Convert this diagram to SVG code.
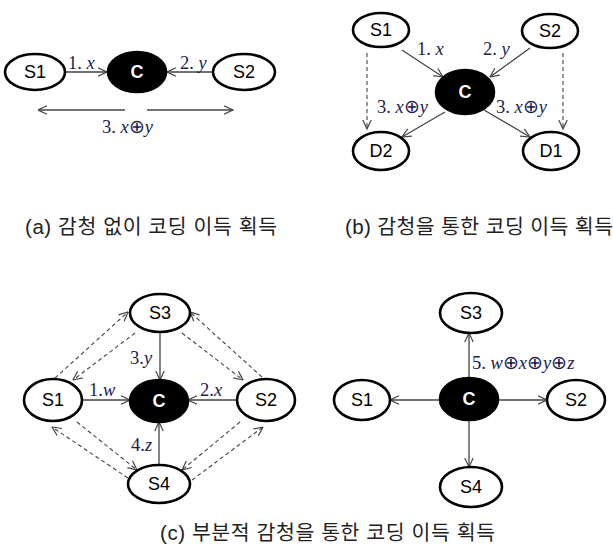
<svg xmlns="http://www.w3.org/2000/svg" width="613" height="549" viewBox="0 0 613 549">
<defs>
<marker id="ah" viewBox="0 0 10 10" refX="9.5" refY="5" markerWidth="10" markerHeight="10" markerUnits="userSpaceOnUse" orient="auto">
<path d="M0.5,0.8 L9.5,5 L0.5,9.2" fill="none" stroke="#444" stroke-width="1.2"/>
</marker>
</defs>
<style>
.n{fill:#fff;stroke:#000;stroke-width:2.6}
.c{fill:#000;stroke:#000;stroke-width:2.6}
.t{font-family:"Liberation Sans",Arial,sans-serif;font-size:18px;fill:#000;text-anchor:middle}
.tc{font-family:"Liberation Sans",Arial,sans-serif;font-size:18px;fill:#fff;text-anchor:middle;font-weight:bold}
.e{stroke:#444;stroke-width:1.3;fill:none;marker-end:url(#ah)}
.d{stroke:#444;stroke-width:1.1;fill:none;stroke-dasharray:4,3;marker-end:url(#ah)}
.l{font-family:"Liberation Serif","Times New Roman",serif;font-size:18.5px;fill:#1c1c50}
.i{font-style:italic}
.cap{font-family:"Liberation Sans","Noto Sans CJK KR",sans-serif;font-size:20.5px;fill:#222}
</style>

<!-- connectors -->
<g id="connectors">
<!-- (a) -->
<line class="e" x1="65" y1="72" x2="107" y2="72"/>
<line class="e" x1="213" y1="72" x2="167" y2="72"/>
<line class="e" x1="125" y1="110" x2="38" y2="110"/>
<line class="e" x1="147" y1="110" x2="233" y2="110"/>
<!-- (b) -->
<line class="e" x1="402" y1="50" x2="443" y2="77"/>
<line class="e" x1="530" y1="48" x2="490" y2="77"/>
<line class="e" x1="445" y1="112" x2="402" y2="137"/>
<line class="e" x1="484" y1="110" x2="530" y2="137"/>
<line class="d" x1="367" y1="53" x2="367" y2="129"/>
<line class="d" x1="563" y1="53" x2="563" y2="129"/>
<!-- (c) left -->
<line class="e" x1="160" y1="332" x2="160" y2="380"/>
<line class="e" x1="82" y1="400" x2="130" y2="400"/>
<line class="e" x1="237" y1="400" x2="188" y2="400"/>
<line class="e" x1="159" y1="465" x2="159" y2="422"/>
<line class="d" x1="55" y1="378" x2="128" y2="312"/>
<line class="d" x1="135" y1="333" x2="73" y2="380"/>
<line class="d" x1="182" y1="333" x2="243" y2="380"/>
<line class="d" x1="262" y1="377" x2="190" y2="312"/>
<line class="d" x1="77" y1="422" x2="137" y2="470"/>
<line class="d" x1="128" y1="478" x2="52" y2="427"/>
<line class="d" x1="240" y1="422" x2="182" y2="470"/>
<line class="d" x1="192" y1="480" x2="263" y2="427"/>
<!-- (c) right -->
<line class="e" x1="469" y1="377" x2="469" y2="333"/>
<line class="e" x1="440" y1="400" x2="390" y2="400"/>
<line class="e" x1="498" y1="400" x2="547" y2="400"/>
<line class="e" x1="469" y1="421" x2="469" y2="467"/>
</g>

<!-- edge labels -->
<g id="labels">
<text class="l" x="68" y="69">1. <tspan class="i">x</tspan></text>
<text class="l" x="180" y="69">2. <tspan class="i">y</tspan></text>
<text class="l" x="102" y="133">3. <tspan class="i">x</tspan>⊕<tspan class="i">y</tspan></text>
<text class="l" x="417" y="55">1. <tspan class="i">x</tspan></text>
<text class="l" x="483" y="55">2. <tspan class="i">y</tspan></text>
<text class="l" x="377" y="113">3. <tspan class="i">x</tspan>⊕<tspan class="i">y</tspan></text>
<text class="l" x="496" y="113">3. <tspan class="i">x</tspan>⊕<tspan class="i">y</tspan></text>
<text class="l" x="130" y="364">3.<tspan class="i">y</tspan></text>
<text class="l" x="89" y="396">1.<tspan class="i">w</tspan></text>
<text class="l" x="200" y="396">2.<tspan class="i">x</tspan></text>
<text class="l" x="131" y="451">4.<tspan class="i">z</tspan></text>
<text class="l" x="472" y="369">5. <tspan class="i">w</tspan>⊕<tspan class="i">x</tspan>⊕<tspan class="i">y</tspan>⊕<tspan class="i">z</tspan></text>
</g>

<!-- (a) nodes -->
<g id="a-S1"><ellipse class="n" cx="35" cy="72" rx="30" ry="18"/><text class="t" x="35" y="78">S1</text></g>
<g id="a-C"><ellipse class="c" cx="137" cy="72" rx="29" ry="20"/><text class="tc" x="137" y="78">C</text></g>
<g id="a-S2"><ellipse class="n" cx="244" cy="72" rx="31" ry="18"/><text class="t" x="244" y="78">S2</text></g>

<!-- (b) nodes -->
<g id="b-S1"><ellipse class="n" cx="381" cy="30" rx="28" ry="17"/><text class="t" x="381" y="36">S1</text></g>
<g id="b-S2"><ellipse class="n" cx="550" cy="31" rx="28" ry="17"/><text class="t" x="550" y="37">S2</text></g>
<g id="b-C"><ellipse class="c" cx="465" cy="92" rx="29" ry="22"/><text class="tc" x="465" y="98">C</text></g>
<g id="b-D2"><ellipse class="n" cx="381" cy="151" rx="28" ry="19"/><text class="t" x="381" y="157">D2</text></g>
<g id="b-D1"><ellipse class="n" cx="551" cy="151" rx="28" ry="19"/><text class="t" x="551" y="157">D1</text></g>

<!-- (c) left nodes -->
<g id="c1-S3"><ellipse class="n" cx="160" cy="313" rx="30" ry="19"/><text class="t" x="160" y="319">S3</text></g>
<g id="c1-S1"><ellipse class="n" cx="53" cy="400" rx="29" ry="21"/><text class="t" x="53" y="406">S1</text></g>
<g id="c1-C"><ellipse class="c" cx="159" cy="401" rx="29" ry="21"/><text class="tc" x="159" y="407">C</text></g>
<g id="c1-S2"><ellipse class="n" cx="266" cy="400" rx="29" ry="21"/><text class="t" x="266" y="406">S2</text></g>
<g id="c1-S4"><ellipse class="n" cx="159" cy="484" rx="31" ry="19"/><text class="t" x="159" y="490">S4</text></g>

<!-- (c) right nodes -->
<g id="c2-S3"><ellipse class="n" cx="471" cy="313" rx="31" ry="20"/><text class="t" x="471" y="319">S3</text></g>
<g id="c2-C"><ellipse class="c" cx="469" cy="399" rx="29" ry="21"/><text class="tc" x="469" y="405">C</text></g>
<g id="c2-S1"><ellipse class="n" cx="362" cy="400" rx="28" ry="20"/><text class="t" x="362" y="406">S1</text></g>
<g id="c2-S2"><ellipse class="n" cx="576" cy="400" rx="29" ry="20"/><text class="t" x="576" y="406">S2</text></g>
<g id="c2-S4"><ellipse class="n" cx="471" cy="487" rx="31" ry="20"/><text class="t" x="471" y="493">S4</text></g>

<!-- captions -->
<g id="captions">
<text class="cap" x="25" y="234" textLength="252" lengthAdjust="spacing">(a) 감청 없이 코딩 이득 획득</text>
<text class="cap" x="345" y="234" textLength="268" lengthAdjust="spacing">(b) 감청을 통한 코딩 이득 획득</text>
<text class="cap" x="160" y="540" textLength="335" lengthAdjust="spacing">(c) 부분적 감청을 통한 코딩 이득 획득</text>
</g>
</svg>
